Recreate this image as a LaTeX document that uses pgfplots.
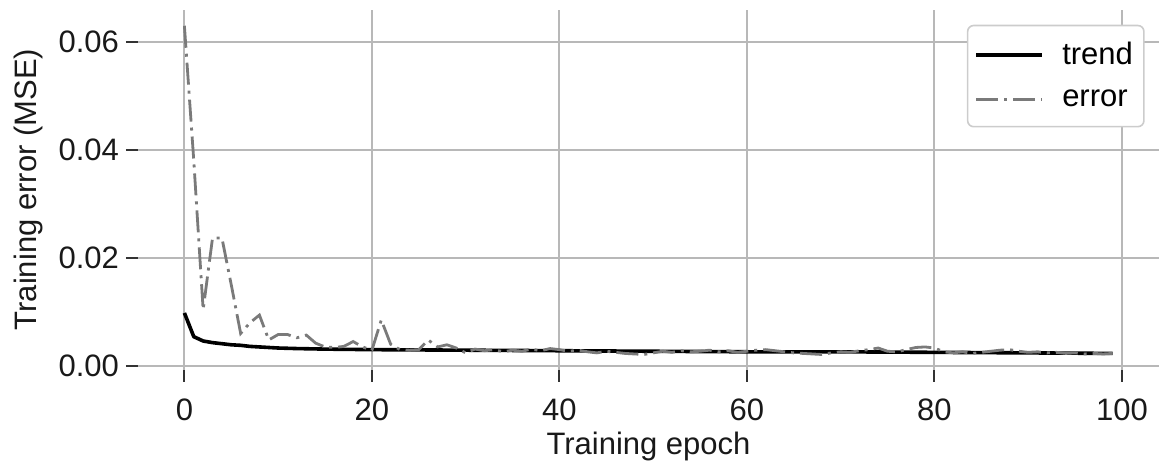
\documentclass[border=0pt]{standalone}
\usepackage{fontspec}
\setmainfont{Liberation Sans}
\usepackage{pgfplots}
\pgfplotsset{compat=1.18}
\definecolor{errgray}{HTML}{7A7A7A}
\definecolor{gridgray}{HTML}{B8B8B8}
\newcommand{\chartfont}{\fontsize{15.5}{18.6}\selectfont}
\begin{document}
\begin{tikzpicture}
\begin{axis}[
  scale only axis,
  width=510.5pt, height=180pt,
  xmin=-4.95, xmax=103.95,
  ymin=-0.0007, ymax=0.066,
  xtick={0,20,40,60,80,100},
  ytick={0,0.02,0.04,0.06},
  yticklabel style={/pgf/number format/.cd, fixed, fixed zerofill, precision=2},
  /pgf/number format/assume math mode=true,
  scaled y ticks=false,
  axis line style={draw=none},
  xtick pos=bottom, ytick pos=left,
  tick align=outside,
  major tick length=6pt,
  tick style={color=black!80, line width=1pt},
  grid=major,
  major grid style={color=gridgray, line width=1pt},
  ticklabel style={font=\chartfont, text=black!90},
  xticklabel style={yshift=-5pt},
  xlabel={Training epoch},
  ylabel={Training error (MSE)},
  every axis x label/.style={at={(axis description cs:0.5,-0.236)}, anchor=base, font=\chartfont, text=black!90},
  every axis y label/.style={at={(axis description cs:-0.1077,0.5)}, rotate=90, anchor=center, font=\chartfont, text=black!90},
  legend style={at={(rel axis cs:0.986,0.958)}, anchor=north east,
    draw=gray!40, line width=0.8pt, rounded corners=3pt, fill=white,
    font=\chartfont, inner xsep=3.5pt, inner ysep=6.5pt,
    row sep=7pt},
  legend cell align=left,
  legend image code/.code={\draw[#1] (0pt,0pt) -- (33pt,0pt); \path (40pt,0pt);},
]
\addplot[black, line width=1.8pt, line join=round] coordinates {
(0,0.0098) (1,0.0054) (2,0.0046) (3,0.0043) (4,0.0041) (5,0.0039) (6,0.0038)
(7,0.0036) (8,0.0035) (9,0.0034) (10,0.0033) (12,0.0032) (15,0.0031) (20,0.0030)
(30,0.0029) (40,0.0028) (50,0.0027) (60,0.0026) (70,0.0026) (80,0.0025)
(90,0.0024) (99,0.0023)
};
\addlegendentry{trend\hspace{10pt}}
\addplot[errgray, line width=1.4pt, dash pattern=on 11pt off 3pt on 1.5pt off 3pt] coordinates {
(0,0.063) (1,0.038) (2,0.0104) (3,0.0237) (4,0.0237) (5,0.015) (6,0.006)
(7,0.008) (8,0.0094) (9,0.0048) (10,0.0058) (11,0.0058) (12,0.0052) (13,0.0057)
(14,0.0042) (15,0.0035) (16,0.0034) (17,0.0036) (18,0.0045) (19,0.0035)
(20,0.0029) (21,0.0085) (22,0.0040) (23,0.0030) (24,0.0029) (25,0.0030)
(26,0.0048) (27,0.0035) (28,0.0039) (29,0.0033) (30,0.0024) (31,0.0031)
(32,0.0028) (33,0.0030) (34,0.0026) (35,0.0029) (36,0.0027) (37,0.0031)
(38,0.0028) (39,0.0032) (40,0.0030) (41,0.0027) (42,0.0029) (43,0.0026)
(44,0.0024) (45,0.0027) (46,0.0025) (47,0.0023) (48,0.0022) (49,0.0021)
(50,0.0024) (51,0.0027) (52,0.0025) (53,0.0028) (54,0.0026) (55,0.0027)
(56,0.0029) (57,0.0026) (58,0.0028) (59,0.0025) (60,0.0027) (61,0.0029)
(62,0.0030) (63,0.0028) (64,0.0026) (65,0.0024) (66,0.0023) (67,0.0022)
(68,0.0021) (69,0.0024) (70,0.0026) (71,0.0025) (72,0.0028) (73,0.0030)
(74,0.0033) (75,0.0027) (76,0.0026) (77,0.0030) (78,0.0034) (79,0.0035)
(80,0.0033) (81,0.0026) (82,0.0024) (83,0.0026) (84,0.0023) (85,0.0025)
(86,0.0027) (87,0.0029) (88,0.0030) (89,0.0027) (90,0.0025) (91,0.0026)
(92,0.0024) (93,0.0025) (94,0.0023) (95,0.0024) (96,0.0022) (97,0.0023)
(98,0.0022) (99,0.0023)
};
\addlegendentry{error\hspace{10pt}}
\end{axis}
\pgfresetboundingbox
\path[use as bounding box] ([shift={(-69pt,-46.6pt)}]current axis.south west) rectangle ([shift={(0pt,4.8pt)}]current axis.north east);
\end{tikzpicture}
\end{document}
